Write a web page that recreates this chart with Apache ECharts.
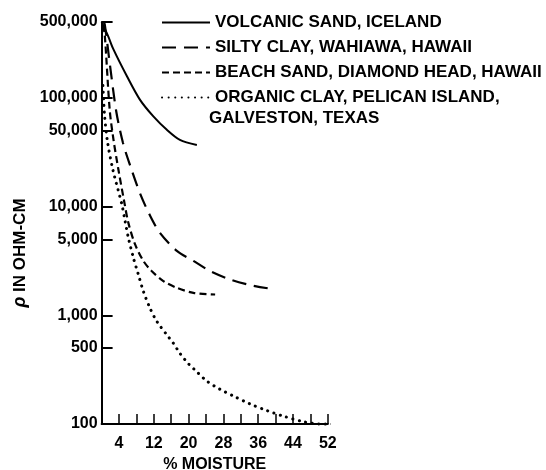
<!DOCTYPE html>
<html>
<head>
<meta charset="utf-8">
<script src="https://cdn.jsdelivr.net/npm/echarts@6/dist/echarts.min.js"></script>
<style>
html,body{margin:0;padding:0;background:#fff;}
#chart{width:546px;height:470px;}
</style>
</head>
<body>
<div id="chart"></div>
<script>
// ---- data ----
const seriesNames = [
  'VOLCANIC SAND, ICELAND',
  'SILTY CLAY, WAHIAWA, HAWAII',
  'BEACH SAND, DIAMOND HEAD, HAWAII',
  'ORGANIC CLAY, PELICAN ISLAND,'
];
const organicSecondLine = 'GALVESTON, TEXAS';

const volcanicMoisture = [0, 1.5, 2.7, 5.8, 8.8, 11.9, 15.0, 18.0, 21.9];
const volcanicRho      = [500000, 370000, 281000, 159000, 96500, 67600, 50900, 41100, 36900];

const siltyMoisture = [0.4, 0.71, 1.93, 3.38, 4.92, 6.53, 8.83, 11.13, 13.4, 17.3, 21.1, 24.9, 29.5, 34.1, 38.3];
const siltyRho      = [495000, 479000, 199600, 74700, 38500, 24100, 13250, 8280, 5750, 3920, 3170, 2560, 2140, 1900, 1770];

const beachMoisture = [0.3, 0.71, 1.86, 2.74, 3.89, 5.15, 6.14, 7.68, 9.59, 11.5, 14.2, 17.3, 21.1, 26.1];
const beachRho      = [470000, 387000, 78000, 41100, 21600, 11400, 7130, 4520, 3170, 2560, 2065, 1790, 1610, 1555];

const organicMoisture = [0.3, 0.67, 1.36, 2.62, 4.62, 5.38, 6.14, 7.29, 8.44, 9.59, 11.1, 12.7, 15.0, 16.5, 18.0, 19.9, 21.9, 24.2, 27.2, 30.3, 34.1, 38.0, 41.8, 46.4, 50.2, 54.0];
const organicRho      = [130000, 70100, 39400, 21600, 10630, 7440, 5200, 3400, 2380, 1670, 1170, 880, 661, 553, 447, 361, 302, 248, 209, 181, 153, 133, 118, 105, 100, 100];

const yTickValues = [100, 500, 1000, 5000, 10000, 50000, 100000, 500000];
const xLabelValues = [4, 12, 20, 28, 36, 44, 52];

// ---- chart ----
const zip = (xs, ys) => xs.map((x, i) => [x, ys[i]]);
const FONT = 'Liberation Sans';
const black = '#000';

const chart = echarts.init(document.getElementById('chart'), null, {renderer: 'canvas'});

const option = {
  backgroundColor: '#fff',
  animation: false,
  grid: {left: 101.6, right: 218.2, top: 22, bottom: 46, containLabel: false, outerBoundsMode: 'none'},
  legend: {
    orient: 'vertical',
    left: 156, top: 9,
    itemWidth: 48, itemHeight: 14, itemGap: 8,
    itemStyle: {opacity: 0},
    textStyle: {fontSize: 17, fontWeight: 'bold', fontFamily: FONT, color: black, lineHeight: 17},
    data: seriesNames
  },
  xAxis: {
    type: 'value', min: 0, max: 52, interval: 4,
    name: '% MOISTURE', nameLocation: 'middle', nameGap: 32,
    nameTextStyle: {fontSize: 16, fontWeight: 'bold', fontFamily: FONT, color: black},
    axisLine: {show: true, onZero: false, lineStyle: {color: black, width: 2}},
    axisTick: {show: true, inside: true, length: 10, lineStyle: {color: black, width: 1.5}},
    axisLabel: {
      interval: 0, margin: 12, color: black, fontSize: 16, fontWeight: 'bold', fontFamily: FONT,
      showMinLabel: true, showMaxLabel: true,
      formatter: v => xLabelValues.indexOf(v) >= 0 ? String(v) : ''
    },
    splitLine: {show: false}
  },
  yAxis: {
    type: 'log', logBase: 10, min: 100, max: 500000,
    axisLine: {show: true, onZero: false, lineStyle: {color: black, width: 2}},
    axisTick: {show: true, inside: true, length: 11, customValues: yTickValues, lineStyle: {color: black, width: 2}},
    axisLabel: {
      customValues: yTickValues, margin: 4, color: black, fontSize: 16, fontWeight: 'bold', fontFamily: FONT,
      formatter: v => Number(v).toLocaleString('en-US')
    },
    minorTick: {show: false},
    splitLine: {show: false}
  },
  graphic: [
    {
      type: 'text', x: 20, y: 253, rotation: Math.PI / 2,
      style: {
        text: '{rho|ρ} IN OHM-CM',
        fontSize: 17, fontWeight: 'bold', fontFamily: FONT, fill: black,
        align: 'center', verticalAlign: 'middle',
        rich: {rho: {fontSize: 18, fontWeight: 'bold', fontStyle: 'italic', fontFamily: FONT, fill: black}}
      }
    },
    {
      type: 'text', left: 209, top: 110,
      style: {text: organicSecondLine, fontSize: 17, fontWeight: 'bold', fontFamily: FONT, fill: black}
    }
  ],
  series: [
    {
      name: seriesNames[0], type: 'line', data: zip(volcanicMoisture, volcanicRho),
      smooth: 0.3, symbol: 'none', clip: false,
      itemStyle: {color: black},
      lineStyle: {color: black, width: 2, type: 'solid'}
    },
    {
      name: seriesNames[1], type: 'line', data: zip(siltyMoisture, siltyRho),
      smooth: 0.3, symbol: 'none', clip: false,
      itemStyle: {color: black},
      lineStyle: {color: black, width: 2.2, type: [14, 8]}
    },
    {
      name: seriesNames[2], type: 'line', data: zip(beachMoisture, beachRho),
      smooth: 0.3, symbol: 'none', clip: false,
      itemStyle: {color: black},
      lineStyle: {color: black, width: 2.2, type: [7, 4]}
    },
    {
      name: seriesNames[3], type: 'line', data: zip(organicMoisture, organicRho),
      smooth: 0.3, symbol: 'none', clip: false,
      itemStyle: {color: black},
      lineStyle: {color: black, width: 3, type: [0.1, 6.5], cap: 'round'}
    }
  ]
};
chart.setOption(option);
</script>
</body>
</html>
